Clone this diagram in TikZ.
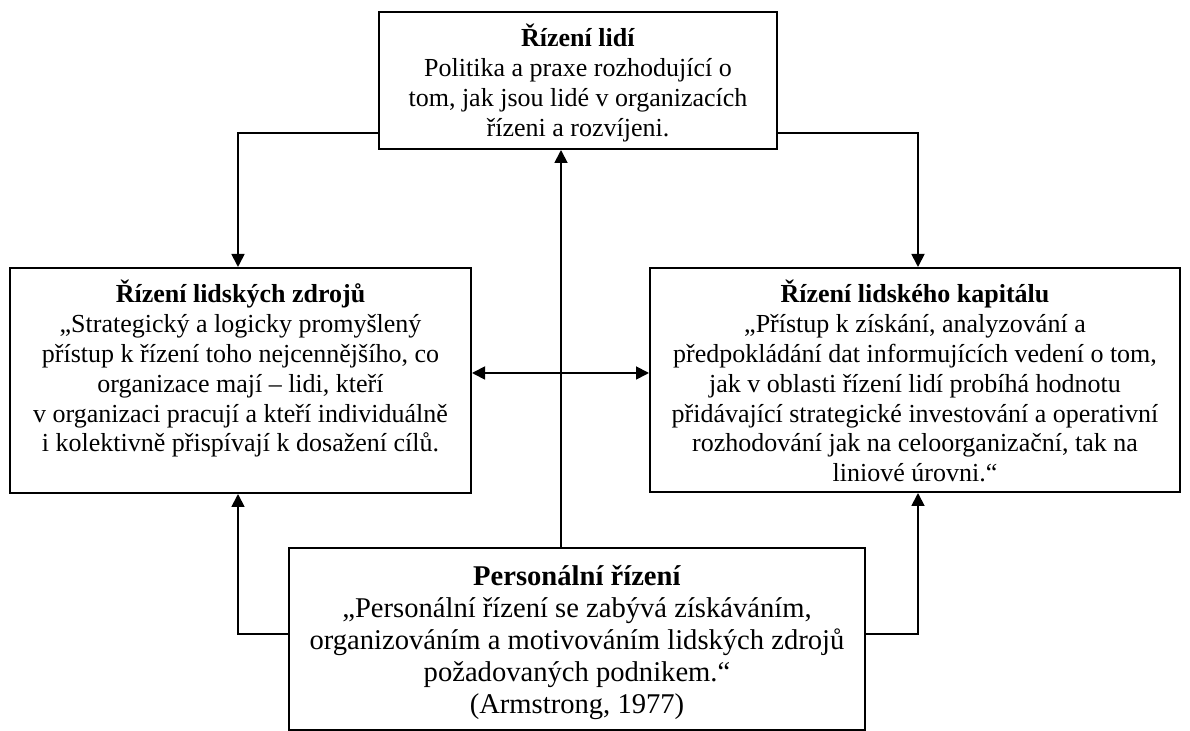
\documentclass[tikz,border=0pt]{standalone}
\usepackage{fontspec}
\setmainfont{Liberation Serif}
\usetikzlibrary{arrows.meta,calc}
\begin{document}
\begin{tikzpicture}[x=0.5pt,y=-0.5pt,
  box/.style 2 args={draw=black, line width=1pt, inner sep=0pt,
    minimum width=#1, minimum height=#2},
  txt/.style={align=center, anchor=north, inner sep=0pt,
    font=\fontsize{13}{14.9}\selectfont},
  txtbig/.style={align=center, anchor=north, inner sep=0pt,
    font=\fontsize{14.3}{16}\selectfont},
  arr/.style={line width=0.9pt, -{Triangle[length=6.5pt,width=6.5pt]}},
  arrboth/.style={line width=0.9pt, {Triangle[length=6.5pt,width=6.5pt]}-{Triangle[length=6.5pt,width=6.5pt]}}
]
\useasboundingbox (0,0) rectangle (1190,731);

% the four boxes
\node[box={199pt}{68.5pt}]  (top) at (578,80.5) {};
\node[box={230.5pt}{112.5pt}] (hrm) at (240.5,380.5) {};
\node[box={265pt}{112pt}]   (hck) at (915,380) {};
\node[box={288pt}{91pt}]    (pm)  at (577,639) {};

% their texts
\node[txt] (toptext) at ([yshift=-6.5pt]top.north)
  {\textbf{Řízení lidí}\\
   Politika a praxe rozhodující o\\
   tom, jak jsou lidé v organizacích\\
   řízeni a rozvíjeni.};
\node[txt] (hrmtext) at ([yshift=-6.5pt]hrm.north)
  {\textbf{Řízení lidských zdrojů}\\
   „Strategický a logicky promyšlený\\
   přístup k řízení toho nejcennějšího, co\\
   organizace mají – lidi, kteří\\
   v organizaci pracují a kteří individuálně\\
   i kolektivně přispívají k dosažení cílů.};
\node[txt] (hcktext) at ([yshift=-6.5pt]hck.north)
  {\textbf{Řízení lidského kapitálu}\\
   „Přístup k získání, analyzování a\\
   předpokládání dat informujících vedení o tom,\\
   jak v oblasti řízení lidí probíhá hodnotu\\
   přidávající strategické investování a operativní\\
   rozhodování jak na celoorganizační, tak na\\
   liniové úrovni.“};
\node[txtbig] (pmtext) at ([yshift=-9pt]pm.north)
  {\textbf{Personální řízení}\\
   „Personální řízení se zabývá získáváním,\\
   organizováním a motivováním lidských zdrojů\\
   požadovaných podnikem.“\\
   (Armstrong, 1977)};

% connectors
\draw[arr] ([yshift=8.5pt]top.south west) -| ([xshift=-1.25pt]hrm.north);
\draw[arr] ([yshift=8.5pt]top.south east) -| ([xshift=1.5pt]hck.north);
\draw[arr] ([yshift=2.5pt]pm.west) -| ([xshift=-1.25pt]hrm.south);
\draw[arr] ([yshift=2.5pt]pm.east) -| ([xshift=1.5pt]hck.south);
\draw[arr] ([xshift=-8pt]pm.north) -- ([xshift=-8pt]pm.north |- top.south);
\draw[arrboth] ([yshift=3.75pt]hrm.east) -- ([yshift=3.75pt]hrm.east -| hck.west);
\end{tikzpicture}
\end{document}
